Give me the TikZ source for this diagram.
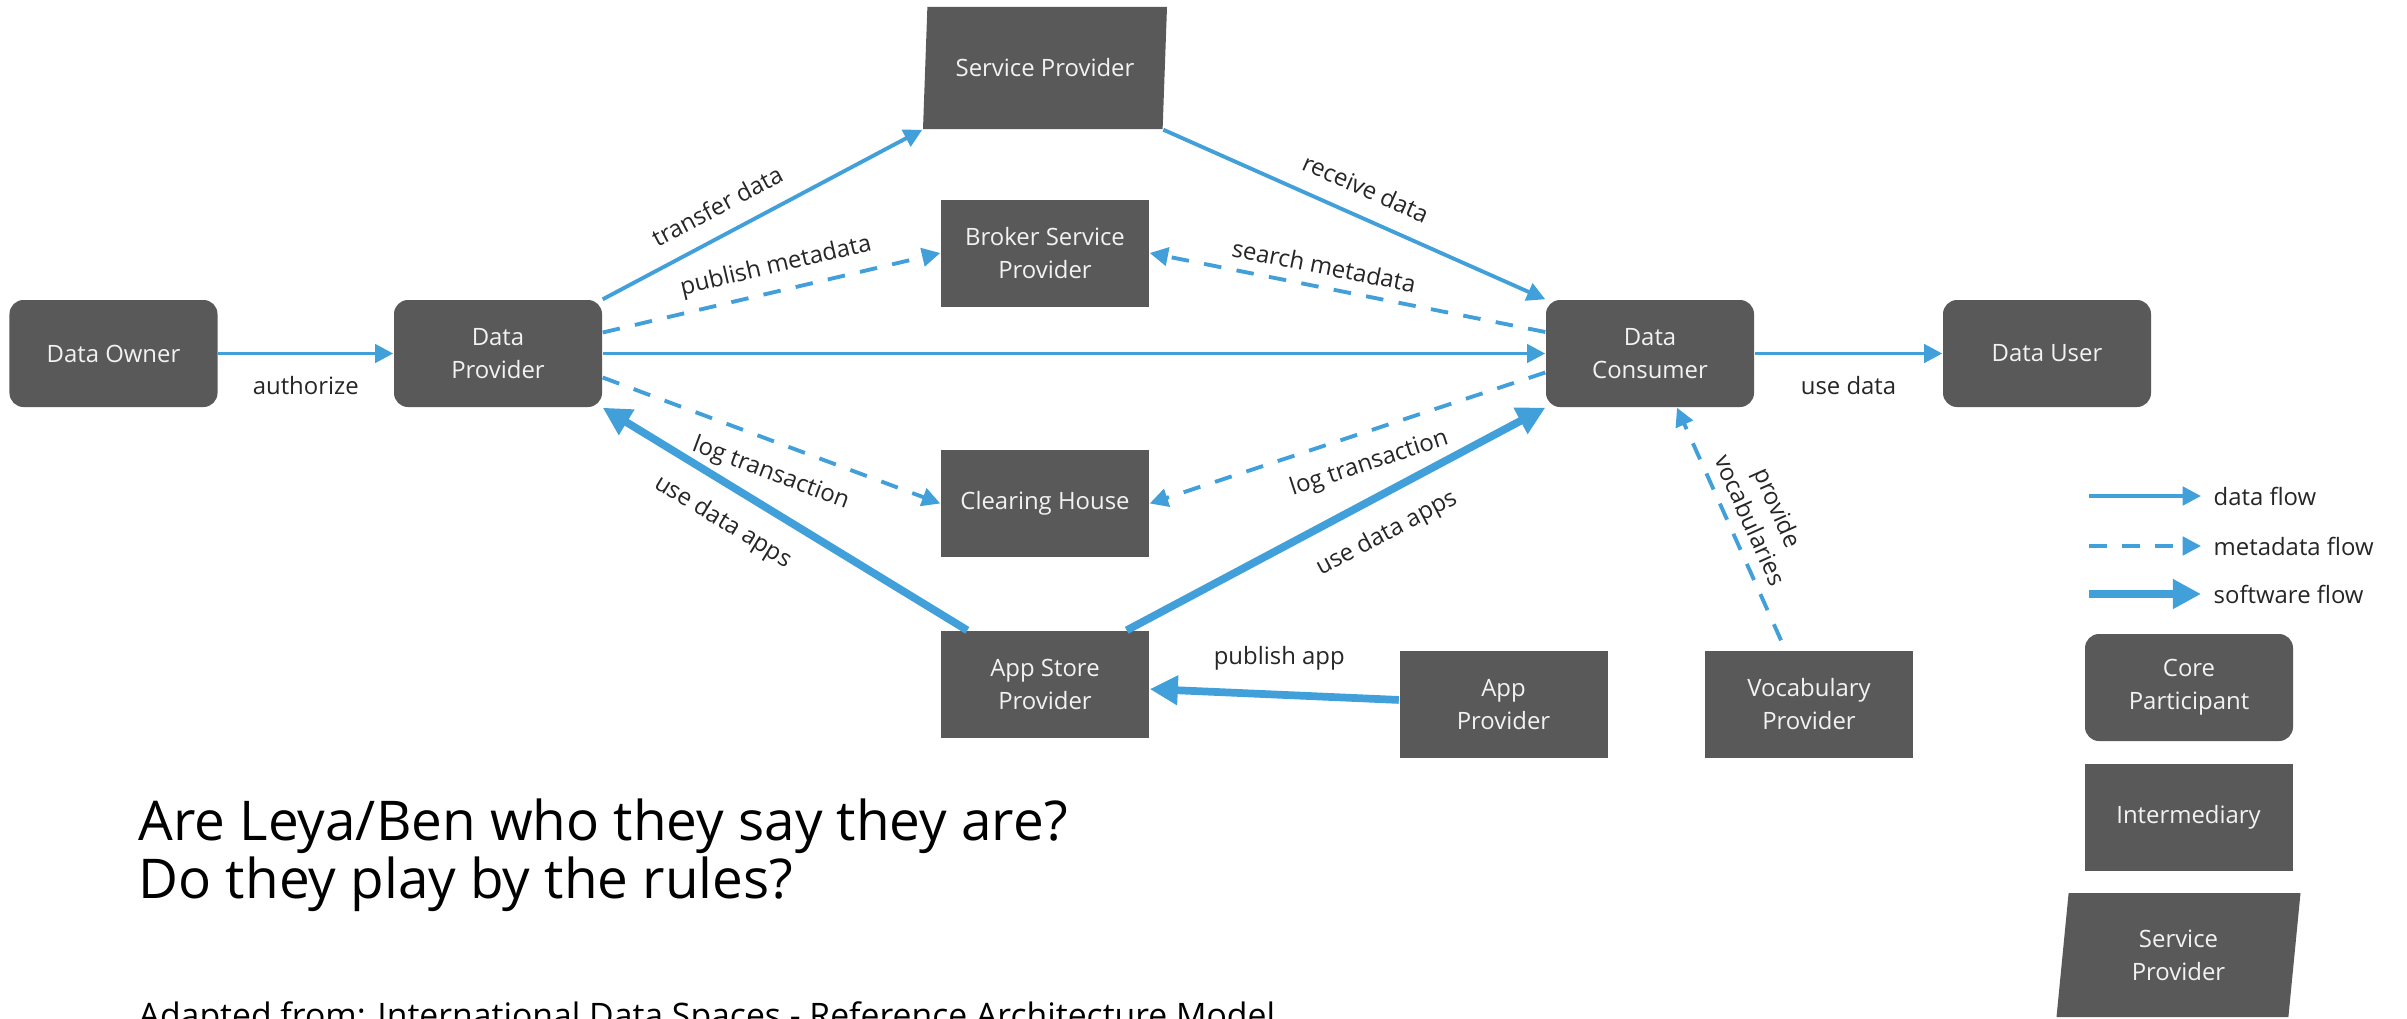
\documentclass[tikz,border=0pt]{standalone}
\usepackage{fontspec}
\setmainfont{Open Sans}
\usepackage{tikz}
\usetikzlibrary{arrows.meta,shapes.geometric,calc}
\definecolor{flow}{HTML}{419FDA}
\definecolor{boxfill}{HTML}{595959}
\definecolor{boxtext}{HTML}{F2F2F2}
\definecolor{lbltext}{HTML}{262626}
\newcommand{\boxfont}{\fontsize{6.8}{9.4}\selectfont}
\newcommand{\lblfont}{\fontsize{6.8}{8.6}\selectfont}
\tikzset{
  core/.style={rectangle, fill=boxfill, rounded corners=0.14cm, minimum width=2.08cm, minimum height=1.07cm, inner sep=0pt, text=boxtext, align=center, font=\boxfont},
  inter/.style={core, rounded corners=0pt},
  svc/.style={trapezium, trapezium left angle=76.6, trapezium right angle=103.4, trapezium stretches body, fill=boxfill, minimum width=2.44cm, minimum height=1.22cm, inner sep=0pt, text=boxtext, align=center, font=\boxfont},
  lbl/.style={font=\lblfont, text=lbltext, inner sep=3pt},
  dflow/.style={draw=flow, line width=1.1pt, -{Triangle[length=5.2pt,width=5.2pt]}},
  mflow/.style={dflow, dash pattern=on 5pt off 4.4pt},
  sflow/.style={draw=flow, line width=2.2pt, -{Triangle[length=8pt,width=8pt]}},
}

\begin{document}
\begin{tikzpicture}
  \useasboundingbox (0,0) rectangle (24.07,-10.19);
  \clip (0,0) rectangle (24.07,-10.19);

  % participants
  \node[core]  (owner)    at (1.135,-3.535)  {Data Owner};
  \node[core]  (dprov)    at (4.98,-3.535)   {Data\\Provider};
  \node[svc]   (sprov)    at (10.45,-0.68)   {Service Provider};
  \node[inter] (broker)   at (10.45,-2.53)   {Broker Service\\Provider};
  \node[inter] (clear)    at (10.45,-5.035)  {Clearing House};
  \node[inter] (store)    at (10.45,-6.845)  {App Store\\Provider};
  \node[core]  (consumer) at (16.5,-3.535)   {Data\\Consumer};
  \node[core]  (duser)    at (20.47,-3.535)  {Data User};
  \node[inter] (aprov)    at (15.035,-7.045) {App\\Provider};
  \node[inter] (vprov)    at (18.09,-7.045)  {Vocabulary\\Provider};

  % flows
  \draw[dflow] (owner) -- (dprov) node[lbl, midway, below=3pt] {authorize};
  \draw[dflow] (dprov.north east) -- (sprov.bottom left corner)
    node[lbl, pos=0.4, sloped, above=2pt] {transfer data};
  \draw[mflow] ($(dprov.east)+(0,0.21)$) -- (broker.west)
    node[lbl, pos=0.53, sloped, above] {publish metadata};
  \draw[dflow] (dprov.east) -- (consumer.west);
  \draw[mflow] ($(dprov.east)+(0,-0.24)$) -- (clear.west)
    node[lbl, pos=0.53, sloped, below=2pt] {log transaction};
  \draw[sflow] ($(store.north west)+(0.27,0)$) -- (dprov.south east)
    node[lbl, pos=0.62, sloped, below=2.5pt] {use data apps};
  \draw[sflow] ($(store.north east)+(-0.23,0)$) -- (consumer.south west)
    node[lbl, pos=0.58, sloped, below=3pt] {use data apps};
  \draw[dflow] (sprov.bottom right corner) -- (consumer.north west)
    node[lbl, pos=0.5, sloped, above=2pt] {receive data};
  \draw[mflow] ($(consumer.west)+(0,0.215)$) -- (broker.east)
    node[lbl, pos=0.57, sloped, above] {search metadata};
  \draw[mflow] ($(consumer.west)+(0,-0.19)$) -- (clear.east)
    node[lbl, pos=0.47, sloped, below=2pt] {log transaction};
  \draw[dflow] (consumer) -- (duser) node[lbl, midway, below=3pt] {use data};
  \draw[sflow] (aprov) -- (store) node[lbl, pos=0.48, above=3pt] {publish app};
  \draw[mflow] ($(vprov.north)+(-0.28,0.1)$) -- ($(consumer.south)+(0.27,0)$)
    node[lbl, pos=0.48, sloped, above, align=center] {provide\\vocabularies};

  % legend
  \coordinate (lg1) at (20.89,-4.96);
  \coordinate (lg2) at (20.89,-5.46);
  \coordinate (lg3) at (20.89,-5.94);
  \node[lbl, anchor=west, inner sep=0.12cm] (lt1) at (22.01,-4.96) {data flow};
  \node[lbl, anchor=west, inner sep=0.12cm] (lt2) at (22.01,-5.46) {metadata flow};
  \node[lbl, anchor=west, inner sep=0.12cm] (lt3) at (22.01,-5.94) {software flow};
  \draw[dflow] (lg1) -- (lt1.west);
  \draw[mflow] (lg2) -- (lt2.west);
  \draw[sflow] (lg3) -- (lt3.west);
  \node[core]  (lcore)  at (21.89,-6.875) {Core\\Participant};
  \node[inter] (linter) at (21.885,-8.17) {Intermediary};
  \node[svc, minimum height=1.24cm] (lsvc) at (21.785,-9.55) {Service\\Provider};

  % question and source
  \node[anchor=north west, inner sep=0pt, align=left, font=\fontsize{15.6}{14.8}\selectfont] (quest) at (1.38,-7.98)
    {Are Leya/Ben who they say they are?\\Do they play by the rules?};
  \node[anchor=base west, inner sep=0pt, font=\fontsize{9.6}{11}\selectfont] (src) at (1.38,-10.27)
    {Adapted from: International Data Spaces - Reference Architecture Model};
\end{tikzpicture}
\end{document}
